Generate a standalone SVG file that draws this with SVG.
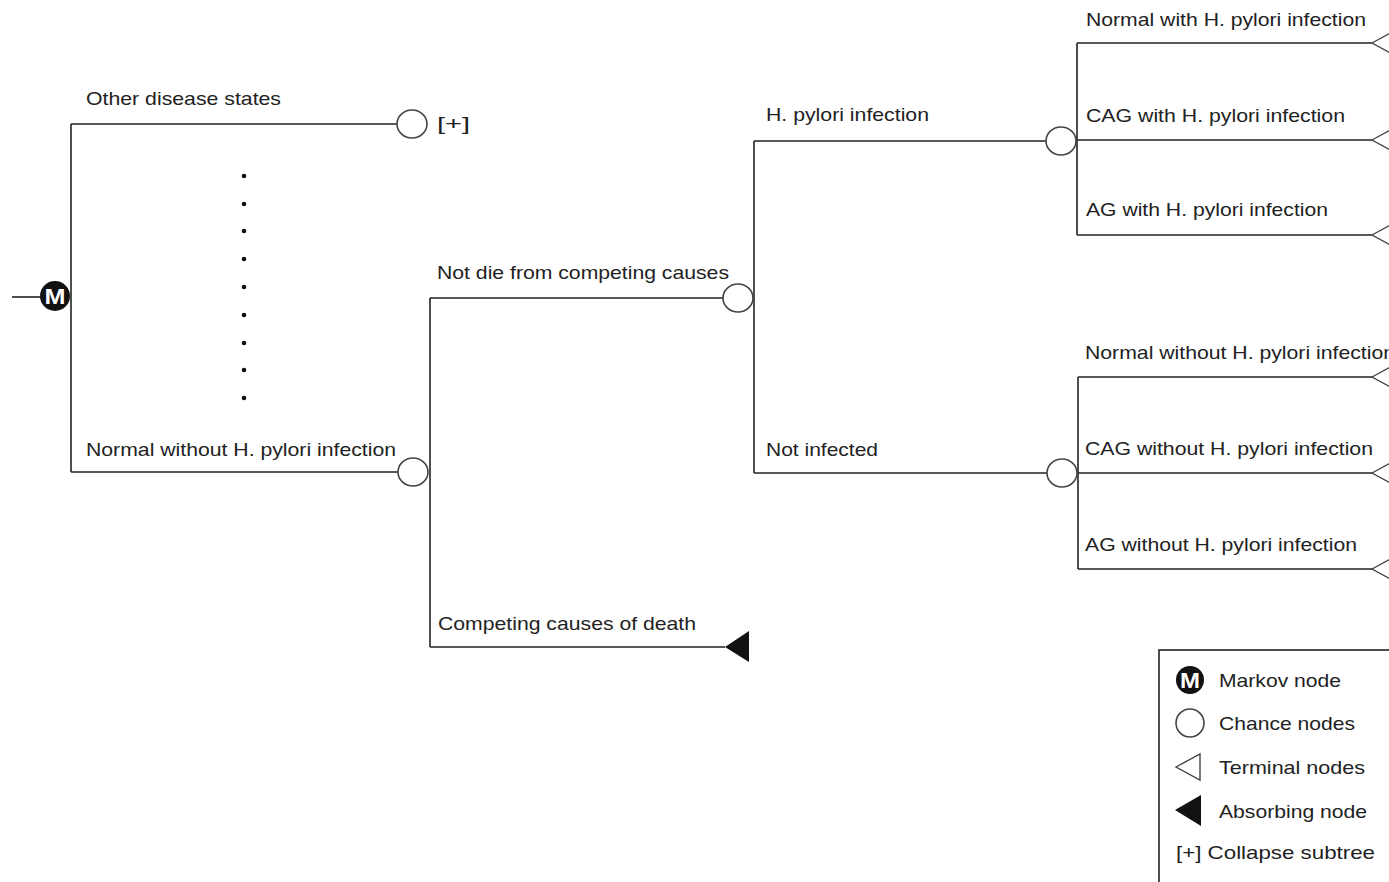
<svg xmlns="http://www.w3.org/2000/svg" width="1389" height="882" viewBox="0 0 1389 882">
<style>
.ln{stroke:#222;stroke-width:1.6;fill:none}
.ch{fill:#fff;stroke:#444;stroke-width:1.6}
.term{fill:#fff;stroke:#444;stroke-width:1.4}
.abs{fill:#111;stroke:none}
.mk{fill:#111}
.mt{font-family:"Liberation Sans",Arial,sans-serif;font-weight:bold;font-size:22px;fill:#fff;text-anchor:middle}
.t{font-family:"Liberation Sans",Arial,sans-serif;font-size:18.5px;fill:#222}
.dot{fill:#111}
</style>
<rect width="1389" height="882" fill="#fff"/>
<g id="connectors">
<path class="ln" d="M12 297 H42"/>
<path class="ln" d="M71 124 V472"/>
<path class="ln" d="M71 124 H397"/>
<path class="ln" d="M71 472 H398"/>
<path class="ln" d="M430 298 V647"/>
<path class="ln" d="M430 298 H723"/>
<path class="ln" d="M430 647 H725"/>
<path class="ln" d="M754 141 V473"/>
<path class="ln" d="M754 141 H1046"/>
<path class="ln" d="M754 473 H1047"/>
<path class="ln" d="M1077 43 V235"/>
<path class="ln" d="M1077 43 H1372"/>
<path class="ln" d="M1077 140 H1372"/>
<path class="ln" d="M1077 235 H1372"/>
<path class="ln" d="M1078 377 V569"/>
<path class="ln" d="M1078 377 H1372"/>
<path class="ln" d="M1078 473 H1372"/>
<path class="ln" d="M1078 569 H1372"/>
</g>
<g id="markov">
<circle class="mk" cx="55" cy="296" r="15"/>
<text class="mt" x="55" y="304" textLength="21" lengthAdjust="spacingAndGlyphs">M</text>
</g>
<g id="other-states">
<ellipse class="ch" cx="412" cy="124" rx="15" ry="14"/>
<text class="t" x="86" y="105" textLength="195" lengthAdjust="spacingAndGlyphs">Other disease states</text>
<text class="t" x="437" y="130" textLength="33" lengthAdjust="spacingAndGlyphs">[+]</text>
</g>
<g id="dots">
<circle class="dot" cx="244" cy="176" r="2.3"/>
<circle class="dot" cx="244" cy="204" r="2.3"/>
<circle class="dot" cx="244" cy="231" r="2.3"/>
<circle class="dot" cx="244" cy="259" r="2.3"/>
<circle class="dot" cx="244" cy="287" r="2.3"/>
<circle class="dot" cx="244" cy="315" r="2.3"/>
<circle class="dot" cx="244" cy="343" r="2.3"/>
<circle class="dot" cx="244" cy="370" r="2.3"/>
<circle class="dot" cx="244" cy="398" r="2.3"/>
</g>
<g id="normal-without">
<ellipse class="ch" cx="413" cy="472" rx="15" ry="14"/>
<text class="t" x="86" y="456" textLength="310" lengthAdjust="spacingAndGlyphs">Normal without H. pylori infection</text>
</g>
<g id="not-die">
<ellipse class="ch" cx="738" cy="298" rx="15" ry="14"/>
<text class="t" x="437" y="279" textLength="292" lengthAdjust="spacingAndGlyphs">Not die from competing causes</text>
</g>
<g id="competing-death">
<polygon class="abs" points="725,647 749,631 749,662"/>
<text class="t" x="438" y="630" textLength="258" lengthAdjust="spacingAndGlyphs">Competing causes of death</text>
</g>
<g id="hp-infection">
<ellipse class="ch" cx="1061" cy="141" rx="15" ry="14"/>
<text class="t" x="766" y="121" textLength="163" lengthAdjust="spacingAndGlyphs">H. pylori infection</text>
</g>
<g id="not-infected">
<ellipse class="ch" cx="1062" cy="473" rx="15" ry="14"/>
<text class="t" x="766" y="456" textLength="112" lengthAdjust="spacingAndGlyphs">Not infected</text>
</g>
<g id="t-normal-with">
<polygon class="term" points="1372,43 1394,31 1394,55"/>
<text class="t" x="1086" y="26" textLength="280" lengthAdjust="spacingAndGlyphs">Normal with H. pylori infection</text>
</g>
<g id="t-cag-with">
<polygon class="term" points="1372,140 1394,128 1394,152"/>
<text class="t" x="1086" y="122" textLength="259" lengthAdjust="spacingAndGlyphs">CAG with H. pylori infection</text>
</g>
<g id="t-ag-with">
<polygon class="term" points="1372,235 1394,223 1394,247"/>
<text class="t" x="1086" y="216" textLength="242" lengthAdjust="spacingAndGlyphs">AG with H. pylori infection</text>
</g>
<g id="t-normal-without">
<polygon class="term" points="1372,377 1394,365 1394,389"/>
<text class="t" x="1085" y="359" textLength="310" lengthAdjust="spacingAndGlyphs">Normal without H. pylori infection</text>
</g>
<g id="t-cag-without">
<polygon class="term" points="1372,473 1394,461 1394,485"/>
<text class="t" x="1085" y="455" textLength="288" lengthAdjust="spacingAndGlyphs">CAG without H. pylori infection</text>
</g>
<g id="t-ag-without">
<polygon class="term" points="1372,569 1394,557 1394,581"/>
<text class="t" x="1085" y="551" textLength="272" lengthAdjust="spacingAndGlyphs">AG without H. pylori infection</text>
</g>
<g id="legend">
<rect x="1159" y="650" width="240" height="240" fill="#fff" stroke="#222" stroke-width="1.6"/>
<circle class="mk" cx="1190" cy="680" r="14"/>
<text class="mt" x="1190" y="688" textLength="20" lengthAdjust="spacingAndGlyphs">M</text>
<text class="t" x="1219" y="687" textLength="122" lengthAdjust="spacingAndGlyphs">Markov node</text>
<circle class="ch" cx="1190" cy="723" r="14"/>
<text class="t" x="1219" y="730" textLength="136" lengthAdjust="spacingAndGlyphs">Chance nodes</text>
<polygon class="term" points="1176,767 1200,754 1200,780"/>
<text class="t" x="1219" y="774" textLength="146" lengthAdjust="spacingAndGlyphs">Terminal nodes</text>
<polygon class="abs" points="1175,810 1201,795 1201,826"/>
<text class="t" x="1219" y="818" textLength="148" lengthAdjust="spacingAndGlyphs">Absorbing node</text>
<text class="t" x="1176" y="859" textLength="199" lengthAdjust="spacingAndGlyphs">[+] Collapse subtree</text>
</g>
</svg>
